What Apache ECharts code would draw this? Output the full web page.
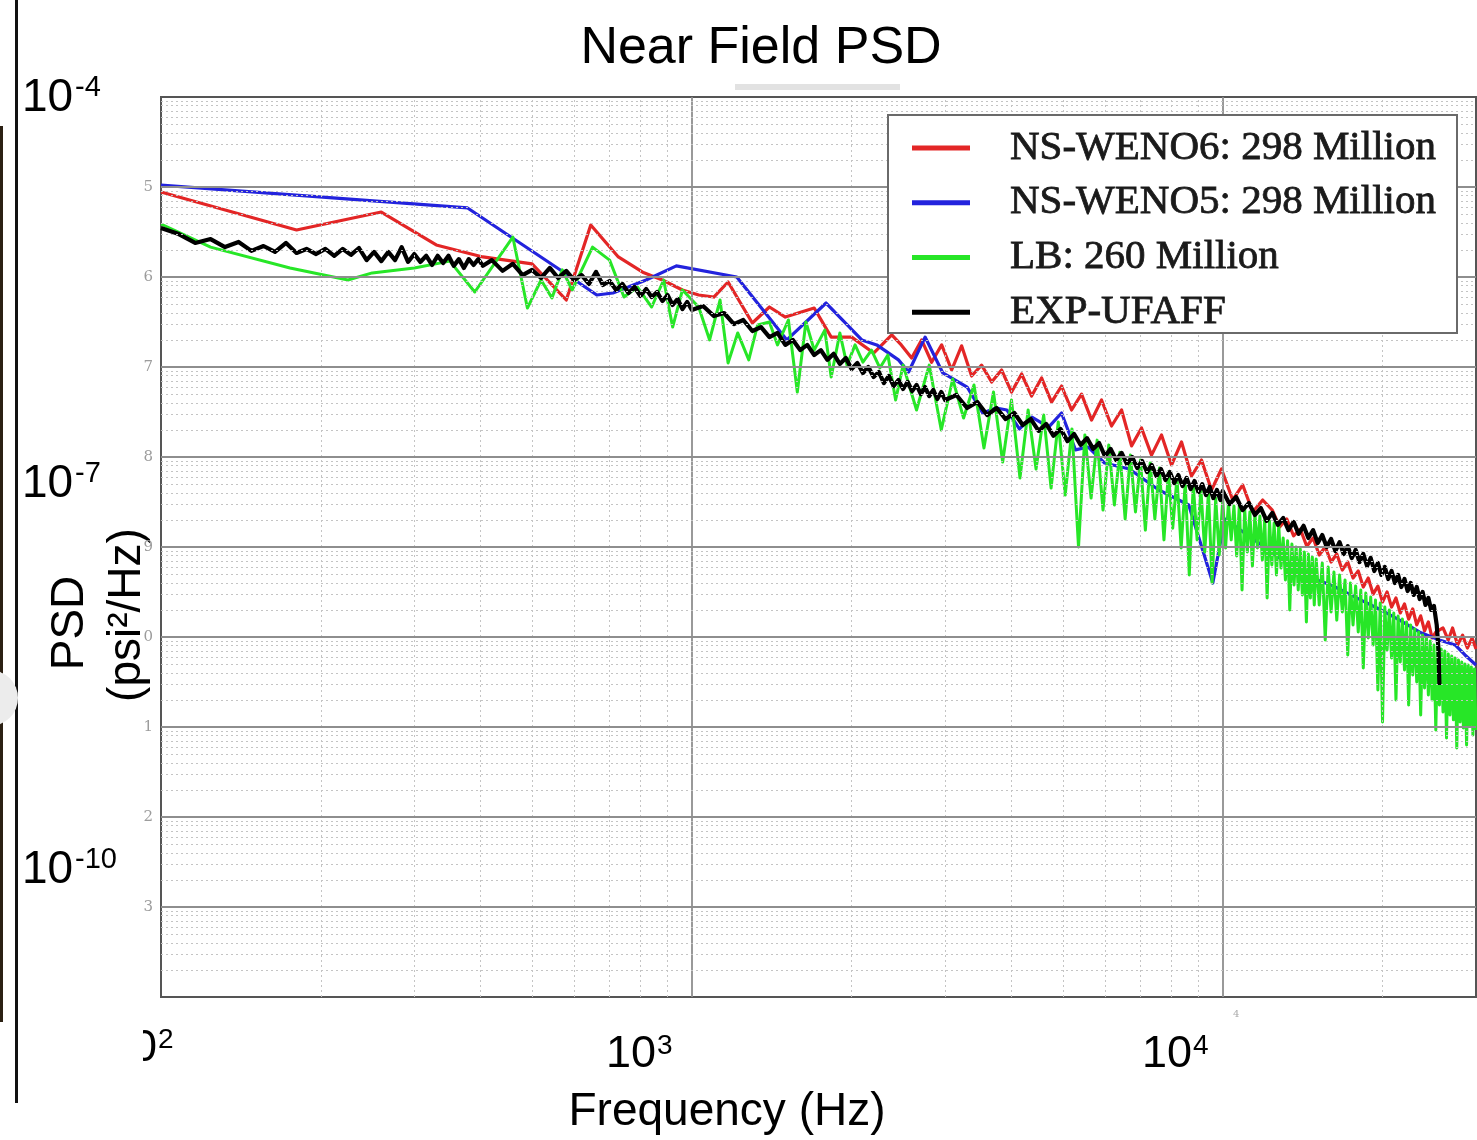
<!DOCTYPE html>
<html><head><meta charset="utf-8">
<script src="https://cdn.jsdelivr.net/npm/echarts@6/dist/echarts.min.js"></script>
<style>html,body{margin:0;padding:0;background:#fff}#c{width:1477px;height:1140px}</style>
</head><body><div id="c"></div>
<script>
// ---------- text ----------
const titleText = 'Near Field PSD';
const xAxisTitle = 'Frequency (Hz)';
const yAxisTitleLines = ['PSD', '(psi²/Hz)'];
const seriesNames = ['NS-WENO6: 298 Million', 'NS-WENO5: 298 Million', 'LB: 260 Million', 'EXP-UFAFF'];
const yOverlayExps = ['-4', '-7', '-10'];
const xOverlayExps = ['2', '3', '4'];

// ---------- data: [frequency Hz, PSD psi^2/Hz] ----------
const redData = [[100,8.8e-6],[180,3.33e-6],[260,5.27e-6],[330,2.27e-6],[404,1.67e-6],[500,1.4e-6],[580,5.55e-7],[645,3.78e-6],[727,1.67e-6],[808,1.13e-6],[880,9.26e-7],[960,7.17e-7],[1030,6.31e-7],[1100,5.99e-7],[1170,8.8e-7],[1300,3.08e-7],[1400,4.64e-7],[1500,3.59e-7],[1700,4.52e-7],[1830,2.15e-7],[2000,2.15e-7],[2200,1.43e-7],[2380,2.27e-7],[2480,1.76e-7],[2594,1.26e-7],[2709,2.0e-7],[2829,1.13e-7],[2955,1.76e-7],[3086,9.26e-8],[3222,1.72e-7],[3365,7.94e-8],[3514,1.05e-7],[3670,6.81e-8],[3832,9.26e-8],[4002,5.27e-8],[4180,8.36e-8],[4365,4.76e-8],[4558,7.55e-8],[4760,4.08e-8],[4971,6.15e-8],[5191,3.33e-8],[5421,5.0e-8],[5662,2.57e-8],[5912,4.3e-8],[6174,2.21e-8],[6448,3.33e-8],[6734,1.33e-8],[7032,2.1e-8],[7344,1.05e-8],[7669,1.76e-8],[8009,8.15e-9],[8364,1.47e-8],[8734,6.15e-9],[9121,9.26e-9],[9525,4.3e-9],[9947,7.36e-9],[10443,3.33e-9],[10906,4.89e-9],[11389,2.45e-9],[11893,3.33e-9],[12400,2.57e-9],[12800,1.67e-9],[13200,2.05e-9],[13600,1.33e-9],[14000,1.58e-9],[14400,1.02e-9],[14800,1.26e-9],[15200,8.15e-10],[15600,1.0e-9],[16000,6.81e-10],[16400,8.36e-10],[16800,5.55e-10],[17200,6.81e-10],[17600,4.52e-10],[18000,5.41e-10],[18400,3.59e-10],[18800,4.52e-10],[19200,3.0e-10],[19600,3.68e-10],[20000,2.45e-10],[20400,3.16e-10],[20800,2.15e-10],[21200,2.71e-10],[21600,1.85e-10],[22000,2.33e-10],[22400,1.58e-10],[22800,2.05e-10],[23200,1.36e-10],[23600,1.72e-10],[24000,1.17e-10],[24400,1.47e-10],[24800,9.75e-11],[25200,1.13e-10],[26000,1.26e-10],[26600,9.26e-11],[27100,1.26e-10],[27700,8.15e-11],[28300,1.05e-10],[28900,7.55e-11],[29500,9.75e-11],[30000,7.36e-11]];

const blueData = [[100,1.05e-5],[378,5.85e-6],[558,1.26e-6],[662,6.31e-7],[710,6.64e-7],[820,9.26e-7],[935,1.33e-6],[1215,1.0e-6],[1510,2.0e-7],[1790,5.14e-7],[2090,2.0e-7],[2230,1.76e-7],[2450,1.2e-7],[2560,8.8e-8],[2750,2.15e-7],[2970,8.58e-8],[3300,5.99e-8],[3530,3.08e-8],[3745,3.5e-8],[3920,3.33e-8],[4140,2.05e-8],[4370,2.78e-8],[4700,2.15e-8],[4970,3.08e-8],[5280,1.2e-8],[5580,1.29e-8],[5990,8.58e-9],[6670,7.36e-9],[7580,4.3e-9],[8630,2.93e-9],[9580,3.98e-10],[10090,2.05e-9],[11850,1.05e-9],[14180,4.89e-10],[16000,3.78e-10],[18220,2.57e-10],[19700,2.05e-10],[21540,1.54e-10],[23500,1.13e-10],[25600,9.26e-11],[27400,8.15e-11],[28600,6.31e-11],[30000,4.89e-11]];

const greenData = [[100,3.88e-6],[124,2.15e-6],[175,1.26e-6],[225,9.26e-7],[250,1.11e-6],[300,1.26e-6],[350,1.5e-6],[390,6.81e-7],[460,2.78e-6],[490,4.52e-7],[520,9.26e-7],[545,5.85e-7],[570,1.2e-6],[595,7.17e-7],[650,2.15e-6],[700,1.54e-6],[745,5.99e-7],[790,7.74e-7],[840,4.64e-7],[885,9.26e-7],[920,2.78e-7],[960,7.17e-7],[1030,4.64e-7],[1080,2.0e-7],[1130,5.55e-7],[1170,1.11e-7],[1220,2.39e-7],[1280,1.2e-7],[1330,2.93e-7],[1400,3.16e-7],[1450,1.76e-7],[1520,3.33e-7],[1580,5.27e-8],[1640,3.16e-7],[1700,1.54e-7],[1780,2.57e-7],[1830,7.74e-8],[1900,2.39e-7],[1960,1.05e-7],[2030,1.76e-7],[2100,1.13e-7],[2180,1.54e-7],[2260,9.75e-8],[2340,1.36e-7],[2420,4.3e-8],[2500,1.05e-7],[2650,3.33e-8],[2800,1.05e-7],[2950,2.0e-8],[3100,7.36e-8],[3250,2.71e-8],[3400,6.31e-8],[3550,1.26e-8],[3700,5.27e-8],[3850,8.8e-9],[4000,4.3e-8],[4150,5.85e-9],[4300,3.33e-8],[4450,7.36e-9],[4600,2.93e-8],[4750,4.52e-9],[4900,2.45e-8],[5050,3.78e-9],[5200,2.05e-8],[5350,1.0e-9],[5500,1.76e-8],[5650,3.5e-9],[5800,1.54e-8],[5950,2.57e-9],[6100,1.36e-8],[6250,2.93e-9],[6400,1.13e-8],[6550,2.05e-9],[6700,1.05e-8],[6850,2.45e-9],[7000,9.26e-9],[7150,1.54e-9],[7300,8.58e-9],[7450,2.05e-9],[7600,7.55e-9],[7750,1.2e-9],[7900,6.81e-9],[8050,1.62e-9],[8200,5.85e-9],[8350,9.75e-10],[8500,5.27e-9],[8650,4.89e-10],[8800,4.89e-9],[8950,1.2e-9],[9100,4.3e-9],[9250,8.8e-10],[9400,4.08e-9],[9550,3.98e-10],[9700,3.5e-9],[9850,8.15e-10],
[10000,3.33e-9],[10125,9.75e-10],[10250,3.08e-9],[10375,1.2e-9],[10500,2.85e-9],[10625,7.94e-10],[10750,3.0e-9],[10875,3.33e-10],[11000,2.64e-9],[11125,8.8e-10],[11250,2.45e-9],[11375,6.15e-10],[11500,2.33e-9],[11625,9.75e-10],[11750,2.21e-9],[11875,7.17e-10],[12000,2.05e-9],[12125,2.71e-10],[12250,1.95e-9],[12375,6.31e-10],[12500,1.85e-9],[12625,4.88e-10],[12750,1.76e-9],[12875,5.84e-10],
[13000,1.26e-9],[13125,4.3e-10],[13250,1.17e-9],[13375,2.0e-10],[13500,1.08e-9],[13625,3.78e-10],[13750,1.0e-9],[13875,3.33e-10],[14000,9.5e-10],[14125,2.93e-10],[14250,8.8e-10],[14375,1.47e-10],[14500,8.36e-10],[14625,2.71e-10],[14750,7.74e-10],[14875,2.27e-10],
[15000,7.36e-10],[15200,2.27e-10],[15400,6.64e-10],[15600,9.26e-11],[15800,5.99e-10],[16000,1.9e-10],[16200,5.27e-10],[16400,1.54e-10],[16600,4.88e-10],[16800,1.9e-10],[17000,4.3e-10],[17200,6.31e-11],[17400,3.98e-10],[17600,1.36e-10],[17800,3.69e-10],[18000,1.14e-10],[18200,3.33e-10],[18400,4.52e-11],[18600,3.08e-10],[18800,9.75e-11],[19000,2.78e-10],[19200,8.15e-11],[19400,2.58e-10],[19600,2.58e-11],[19800,2.39e-10],[20000,1.14e-11],[20200,2.15e-10],[20400,7.17e-11],[20600,2.0e-10],[20800,5.84e-11],[21000,1.85e-10],[21200,2.0e-11],[21400,1.71e-10],[21600,5.27e-11],[21800,1.58e-10],[22000,4.3e-11],[22200,1.47e-10],[22400,1.76e-11],[22600,1.36e-10],[22800,3.78e-11],[23000,1.23e-10],[23200,3.16e-11],[23400,1.14e-10],[23600,1.36e-11],[23800,1.05e-10],[24000,2.71e-11],[24200,9.75e-11],[24400,2.27e-11],[24600,9.03e-11],[24800,2.0e-11],[25000,8.15e-11],[25200,9.26e-12],[25400,7.74e-11],[25600,1.76e-11],[25800,7.36e-11],[26000,1.47e-11],[26200,6.99e-11],[26400,7.55e-12],[26600,6.47e-11],[26800,1.36e-11],[27000,6.15e-11],[27200,1.2e-11],[27400,5.84e-11],[27600,5.84e-12],[27800,5.55e-11],[28000,1.14e-11],[28200,5.27e-11],[28400,9.75e-12],[28600,5.01e-11],[28800,6.31e-12],[29000,4.88e-11],[29200,1.05e-11],[29400,4.64e-11],[29600,8.15e-12],[29800,4.41e-11],[30000,9.26e-12]];

const blackData = [[100,3.5e-6],[108,3.0e-6],[116,2.39e-6],[124,2.64e-6],[132,2.15e-6],[140,2.45e-6],[148,1.95e-6],[156,2.21e-6],[164,1.9e-6],[172,2.39e-6],[180,1.85e-6],[188,2.05e-6],[196,1.8e-6],[204,2.05e-6],[212,1.72e-6],[220,2.05e-6],[228,1.76e-6],[236,2.1e-6],[244,1.54e-6],[252,1.9e-6],[260,1.5e-6],[268,1.9e-6],[276,1.54e-6],[284,2.15e-6],[292,1.47e-6],[300,1.8e-6],[308,1.47e-6],[316,1.72e-6],[324,1.36e-6],[332,1.72e-6],[340,1.43e-6],[348,1.72e-6],[356,1.33e-6],[364,1.58e-6],[372,1.26e-6],[380,1.58e-6],[388,1.36e-6],[396,1.58e-6],[404,1.33e-6],[420,1.54e-6],[440,1.17e-6],[460,1.4e-6],[480,1.05e-6],[500,1.2e-6],[520,9.75e-7],[540,1.26e-6],[560,9.75e-7],[580,1.17e-6],[600,9.26e-7],[620,1.05e-6],[640,8.36e-7],[660,1.14e-6],[680,8.15e-7],[700,9.03e-7],[720,7.17e-7],[740,8.36e-7],[760,6.64e-7],[780,7.74e-7],[800,6.15e-7],[820,7.36e-7],[840,5.99e-7],[860,6.81e-7],[880,5.41e-7],[900,6.31e-7],[920,4.89e-7],[940,5.7e-7],[960,4.41e-7],[980,5.27e-7],[1000,4.3e-7],[1050,4.76e-7],[1100,3.68e-7],[1150,3.98e-7],[1200,3.0e-7],[1250,3.33e-7],[1300,2.51e-7],[1350,2.78e-7],[1400,2.15e-7],[1450,2.39e-7],[1500,1.76e-7],[1550,2.0e-7],[1600,1.54e-7],[1650,1.76e-7],[1700,1.36e-7],[1750,1.54e-7],[1800,1.2e-7],[1850,1.4e-7],[1900,1.08e-7],[1950,1.26e-7],[2000,9.5e-8],[2050,1.11e-7],[2100,8.58e-8],[2150,1.0e-7],[2200,7.74e-8],[2250,8.8e-8],[2300,6.64e-8],[2350,7.94e-8],[2400,6.15e-8],[2450,7.17e-8],[2500,5.7e-8],[2550,6.81e-8],[2600,5.41e-8],[2650,6.31e-8],[2700,5.0e-8],[2750,5.99e-8],[2800,4.76e-8],[2850,5.55e-8],[2900,4.41e-8],[2950,5.27e-8],[3000,4.3e-8],[3150,4.89e-8],[3300,3.5e-8],[3450,4.08e-8],[3600,2.93e-8],[3750,3.5e-8],[3900,2.64e-8],[4050,3.08e-8],[4200,2.27e-8],[4350,2.64e-8],[4500,1.95e-8],[4650,2.33e-8],[4800,1.72e-8],[4950,2.05e-8],[5100,1.5e-8],[5250,1.8e-8],[5400,1.36e-8],[5550,1.62e-8],[5700,1.23e-8],[5850,1.43e-8],[6000,1.02e-8],[6150,1.23e-8],[6300,9.26e-9],[6450,1.11e-8],[6600,8.36e-9],[6750,1.0e-8],[6900,7.55e-9],[7050,9.03e-9],[7200,6.81e-9],[7350,8.15e-9],[7500,6.15e-9],[7650,7.36e-9],[7800,5.55e-9],[7950,6.81e-9],[8100,5.14e-9],[8250,6.31e-9],[8400,4.76e-9],[8550,5.85e-9],[8700,4.41e-9],[8850,5.41e-9],[9000,4.08e-9],[9150,5.0e-9],[9300,3.78e-9],[9450,4.64e-9],[9600,3.5e-9],[9750,4.3e-9],[9900,3.33e-9],[10000,4.19e-9],[10300,3.0e-9],[10600,3.59e-9],[10900,2.57e-9],[11200,3.08e-9],[11500,2.27e-9],[11800,2.71e-9],[12100,1.95e-9],[12400,2.39e-9],[12700,1.76e-9],[13000,2.1e-9],[13300,1.54e-9],[13600,1.9e-9],[13900,1.4e-9],[14200,1.72e-9],[14500,1.26e-9],[14800,1.54e-9],[15100,1.11e-9],[15400,1.36e-9],[15700,1.0e-9],[16000,1.23e-9],[16300,9.03e-10],[16600,1.13e-9],[16900,8.36e-10],[17200,1.02e-9],[17500,7.55e-10],[17800,9.26e-10],[18100,6.81e-10],[18400,8.36e-10],[18700,6.15e-10],[19000,7.55e-10],[19300,5.41e-10],[19600,6.64e-10],[19900,4.89e-10],[20200,5.99e-10],[20500,4.41e-10],[20800,5.41e-10],[21100,3.98e-10],[21400,4.89e-10],[21700,3.59e-10],[22000,4.41e-10],[22300,3.24e-10],[22600,3.98e-10],[22900,2.93e-10],[23200,3.59e-10],[23500,2.64e-10],[23800,3.16e-10],[24100,2.27e-10],[24400,2.71e-10],[24700,2.0e-10],[25000,2.21e-10],[25300,1.36e-10],[25500,7.17e-11],[25600,2.93e-11]];

// ---------- axis extents ----------
const xMin = 100, xMax = 30000;
const yMin = 1e-14, yMax = 1e-4;

// ---------- grid lines (drawn through the axes as mark lines) ----------
const majorStyle = {color: '#8e8e8e', width: 1.8, type: 'solid'};
const minorStyle = {color: '#c4c4c4', width: 1, type: [2, 3]};
const gridLines = [];
for (let e = 2; e <= 4; e++) {
  for (let m = 1; m <= 9; m++) {
    const v = m * Math.pow(10, e);
    if (v <= xMin || v >= xMax) continue;
    gridLines.push({xAxis: v, lineStyle: m === 1 ? majorStyle : minorStyle, label: {show: false}});
  }
}
for (let e = -14; e <= -4; e++) {
  for (let m = 1; m <= 9; m++) {
    const v = m * Math.pow(10, e);
    if (v > yMax * 1.0001) continue;
    const item = {yAxis: v, lineStyle: m === 1 ? majorStyle : minorStyle, label: {show: false}};
    if (m === 1) {
      if (e === -14 || e === -4) item.lineStyle = {opacity: 0};
      item.label = {show: true, position: 'start', distance: 8, formatter: String(Math.abs(e) % 10),
        color: '#9c9c9c', fontSize: 15, fontFamily: 'DejaVu Serif'};
    }
    gridLines.push(item);
  }
}

const chart = echarts.init(document.getElementById('c'), null, {renderer: 'canvas'});

const sans = 'Liberation Sans';
const g = [];
// title
g.push({type: 'text', x: 761, y: 49, style: {text: titleText, fontFamily: sans, fontSize: 52, fill: '#000', align: 'center', verticalAlign: 'middle'}});
// left-side slide exponent labels
const yOverlayPos = [[22, 98], [22, 484], [22, 870]];
yOverlayExps.forEach((ex, i) => {
  const p = yOverlayPos[i];
  g.push({type: 'text', x: p[0], y: p[1], style: {text: '10', fontFamily: sans, fontSize: 46, fill: '#000', align: 'left', verticalAlign: 'middle'}});
  g.push({type: 'text', x: p[0] + 53, y: p[1] - 10, style: {text: ex, fontFamily: sans, fontSize: 29, fill: '#000', align: 'left', verticalAlign: 'middle'}});
});
// bottom slide labels
const xOverlayPos = [[157, 1049, 'right'], [606, 1055, 'left'], [1142, 1055, 'left']];
xOverlayExps.forEach((ex, i) => {
  const p = xOverlayPos[i];
  g.push({type: 'text', x: p[0], y: p[1], style: {text: '10', fontFamily: sans, fontSize: 45, fill: '#000', align: p[2], verticalAlign: 'middle'}});
  const sx = p[2] === 'right' ? p[0] + 1 : p[0] + 51;
  g.push({type: 'text', x: sx, y: p[1] - 9, style: {text: ex, fontFamily: sans, fontSize: 28, fill: '#000', align: 'left', verticalAlign: 'middle'}});
});
g.push({type: 'rect', z: 20, shape: {x: 80, y: 1020, width: 63, height: 60}, style: {fill: '#fff'}});
// axis titles
g.push({type: 'text', x: 727, y: 1112, style: {text: xAxisTitle, fontFamily: sans, fontSize: 46, fill: '#000', align: 'center', verticalAlign: 'middle'}});
g.push({type: 'text', x: 70, y: 623, rotation: Math.PI / 2, style: {text: yAxisTitleLines[0], fontFamily: sans, fontSize: 46, fill: '#000', align: 'center', verticalAlign: 'middle'}});
g.push({type: 'text', x: 127, y: 615, rotation: Math.PI / 2, style: {text: yAxisTitleLines[1], fontFamily: sans, fontSize: 46, fill: '#000', align: 'center', verticalAlign: 'middle'}});
// slide decorations
g.push({type: 'line', shape: {x1: 16.5, y1: 0, x2: 16.5, y2: 1103}, style: {stroke: '#111', lineWidth: 3}});
g.push({type: 'line', shape: {x1: 1.5, y1: 126, x2: 1.5, y2: 1022}, style: {stroke: '#2b2013', lineWidth: 3}});
g.push({type: 'circle', shape: {cx: -10, cy: 698, r: 28}, style: {fill: '#ececec'}});
g.push({type: 'rect', shape: {x: 735, y: 84, width: 165, height: 6}, style: {fill: '#e2e2e2'}});
g.push({type: 'text', x: 1233, y: 1014, style: {text: '4', fontFamily: 'DejaVu Serif', fontSize: 10, fill: '#aaa', align: 'left', verticalAlign: 'middle'}});
// legend frame (own layer, above the plotted lines)
g.push({type: 'rect', zlevel: 1, z: 0, shape: {x: 888, y: 115, width: 569, height: 218}, style: {fill: '#fff', stroke: '#6a6a6a', lineWidth: 2}});

function lineSeries(name, data, color, width) {
  return {name: name, type: 'line', data: data, showSymbol: false, symbol: 'none', color: color,
    lineStyle: {color: color, width: width, join: 'round'}, z: 2, animation: false, silent: true};
}

chart.setOption({
  animation: false,
  backgroundColor: '#fff',
  grid: {left: 161, top: 97, width: 1315, height: 900, show: true, borderColor: '#555', borderWidth: 2, backgroundColor: 'transparent', outerBoundsMode: 'none'},
  xAxis: {type: 'log', logBase: 10, min: xMin, max: xMax, axisLabel: {show: false}, axisTick: {show: false}, axisLine: {show: false}, splitLine: {show: false}},
  yAxis: {type: 'log', logBase: 10, min: yMin, max: yMax, axisLabel: {show: false}, axisTick: {show: false}, axisLine: {show: false}, splitLine: {show: false}},
  legend: {orient: 'vertical', left: 912, top: 127, padding: 0, itemWidth: 58, itemHeight: 5, itemGap: 13, icon: 'rect', zlevel: 1, z: 10,
    selectedMode: false, data: seriesNames,
    textStyle: {fontFamily: 'Liberation Serif', fontSize: 41, color: '#1a1a1a', lineHeight: 40, padding: [0, 0, 0, 35],
      textBorderColor: '#1a1a1a', textBorderWidth: 0.8}},
  graphic: {elements: g},
  series: [
    {type: 'line', data: [], z: 1, silent: true, animation: false,
      markLine: {silent: true, symbol: ['none', 'none'], precision: 20, animation: false, data: gridLines}},
    lineSeries(seriesNames[0], redData, '#e32626', 3.2),
    lineSeries(seriesNames[1], blueData, '#2323dd', 3.2),
    lineSeries(seriesNames[2], greenData, '#27e627', 3),
    lineSeries(seriesNames[3], blackData, '#000000', 4.2)
  ]
});
</script>
</body></html>
